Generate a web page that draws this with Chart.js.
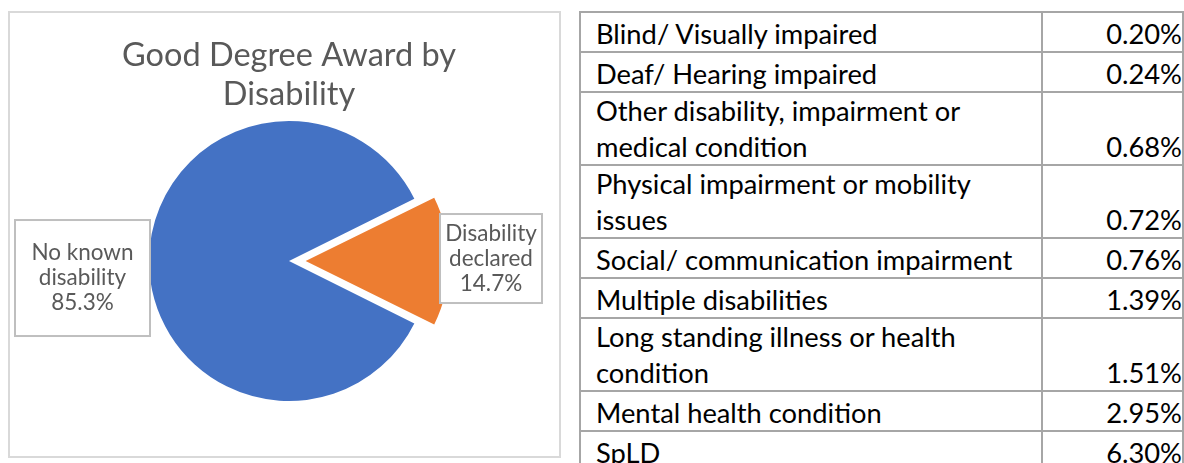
<!DOCTYPE html>
<html>
<head>
<meta charset="utf-8">
<script src="https://cdn.jsdelivr.net/npm/chart.js@4.4.1/dist/chart.umd.min.js"></script>
<style>
    body { margin: 0; background: #fff; width: 1184px; height: 463px; overflow: hidden; position: relative; }
    #frame { position: absolute; left: 8px; top: 11px; width: 549px; height: 443px; border: 2px solid #d9d9d9; }
    #pieChart { position: absolute; left: 9px; top: 12px; }
    #shareTable { position: absolute; left: 579px; top: 11px; border-collapse: collapse; font-family: Lato, sans-serif; font-size: 27.3px; color: #000; }
    #shareTable td { border: 2px solid #a6a6a6; line-height: 35.5px; vertical-align: bottom; padding: 0; white-space: pre-line; }
    #shareTable td.name { width: 450px; padding-left: 15px; }
    #shareTable td.val { width: 140px; text-align: right; padding-right: 0; }
</style>
</head>
<body>
<div id="frame"></div>
<canvas id="pieChart" width="550" height="445"></canvas>
<table id="shareTable"></table>

<script>
// pie data
const awardGroups = ['No known disability', 'Disability declared'];
const awardShares = [85.3, 14.7];
const groupColors = ['#4472C4', '#ED7D31'];

// table data
const disabilityTypes = [
    'Blind/ Visually impaired',
    'Deaf/ Hearing impaired',
    'Other disability, impairment or\nmedical condition',
    'Physical impairment or mobility\nissues',
    'Social/ communication impairment',
    'Multiple disabilities',
    'Long standing illness or health\ncondition',
    'Mental health condition',
    'SpLD'
];
const disabilityShares = [0.20, 0.24, 0.68, 0.72, 0.76, 1.39, 1.51, 2.95, 6.30];

document.addEventListener('DOMContentLoaded', function () {
    // build the table
    const table = document.getElementById('shareTable');
    for (let i = 0; i < disabilityTypes.length; i++) {
        const tr = document.createElement('tr');
        tr.style.height = disabilityTypes[i].includes('\n') ? '73px' : '40px';
        const name = document.createElement('td');
        name.className = 'name';
        name.textContent = disabilityTypes[i];
        const val = document.createElement('td');
        val.className = 'val';
        val.textContent = disabilityShares[i].toFixed(2) + '%';
        tr.appendChild(name);
        tr.appendChild(val);
        table.appendChild(tr);
    }

    // wrap words so they fit inside a label box
    function wrapWords(ctx, text, maxWidth) {
        const words = text.split(' ');
        const lines = [];
        let line = '';
        words.forEach(function (w) {
            const test = line ? line + ' ' + w : w;
            if (ctx.measureText(test).width > maxWidth && line) {
                lines.push(line);
                line = w;
            } else {
                line = test;
            }
        });
        if (line) lines.push(line);
        return lines;
    }

    // boxed data labels like the Excel original
    const boxLabels = {
        id: 'boxLabels',
        afterDatasetsDraw(chart) {
            const ctx = chart.ctx;
            const arcs = chart.getDatasetMeta(0).data;
            ctx.save();
            ctx.font = '22.5px Lato, sans-serif';
            ctx.textAlign = 'center';
            ctx.textBaseline = 'middle';
            arcs.forEach(function (arc, i) {
                const p = arc.getProps(['x', 'y', 'outerRadius']);
                let box;
                if (i === 0) {
                    box = { x: p.x - p.outerRadius - 134, y: p.y - 41, w: 135, h: 116 };
                } else {
                    box = { x: p.x + p.outerRadius + 11, y: p.y - 47, w: 102, h: 89 };
                }
                ctx.fillStyle = '#fff';
                ctx.fillRect(box.x, box.y, box.w, box.h);
                ctx.strokeStyle = '#bfbfbf';
                ctx.lineWidth = 2;
                ctx.strokeRect(box.x, box.y, box.w, box.h);

                const lines = wrapWords(ctx, awardGroups[i], box.w - 8);
                lines.push(awardShares[i].toFixed(1) + '%');
                const lh = 25;
                const cy = box.y + box.h / 2;
                ctx.fillStyle = '#595959';
                lines.forEach(function (t, k) {
                    ctx.fillText(t, box.x + box.w / 2, cy + (k - (lines.length - 1) / 2) * lh);
                });
            });
            ctx.restore();
        }
    };

    // Chart.js moves an arc by offset/4 * (2 - sin(circumference)); pick offset for a 20px pull-out
    const sliceAngle = awardShares[1] / 100 * 2 * Math.PI;
    const pullOut = 20 * 4 / (2 - Math.sin(Math.min(Math.PI, sliceAngle)));

    const ctx = document.getElementById('pieChart').getContext('2d');
    new Chart(ctx, {
        type: 'pie',
        data: {
            labels: awardGroups,
            datasets: [{
                data: awardShares,
                backgroundColor: groupColors,
                borderWidth: 0,
                offset: [0, pullOut],
                hoverOffset: 0
            }]
        },
        options: {
            responsive: false,
            animation: false,
            radius: 140,
            rotation: 90 + awardShares[1] * 3.6 / 2,
            layout: { padding: { left: 10, right: 0, top: 0, bottom: 58 } },
            plugins: {
                legend: { display: false },
                tooltip: { enabled: false },
                title: {
                    display: true,
                    text: ['Good Degree Award by', 'Disability'],
                    color: '#595959',
                    font: { family: 'Lato, sans-serif', size: 32.5, weight: 'normal', lineHeight: 1.17 },
                    padding: { top: 25, bottom: 10 }
                }
            }
        },
        plugins: [boxLabels]
    });
});
</script>
</body>
</html>
